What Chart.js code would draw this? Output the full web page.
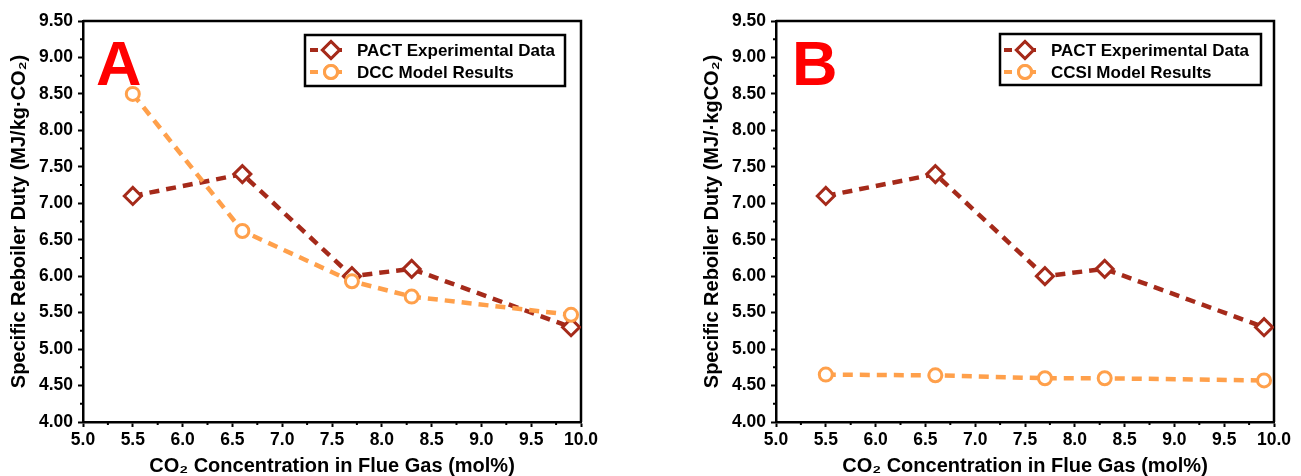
<!DOCTYPE html>
<html lang="en">
<head>
  <meta charset="UTF-8">
  <title>Specific Reboiler Duty vs CO2 Concentration</title>
  <script src="https://cdn.jsdelivr.net/npm/chart.js"></script>
  <style>
    body { margin: 0; background: #fff; }
    .panel { position: absolute; top: 0; height: 476px; }
    #panelA { left: 0; width: 650px; }
    #panelB { left: 650px; width: 651px; }
  </style>
</head>
<body>
  <div class="panel" id="panelA"><canvas id="chartA" width="650" height="476"></canvas></div>
  <div class="panel" id="panelB"><canvas id="chartB" width="651" height="476"></canvas></div>

  <script>
    // CO2 concentration (mol%) for each run
    const co2Conc = [5.5, 6.6, 7.7, 8.3, 9.9];
    // specific reboiler duty, MJ/kg CO2
    const pactDuty = [7.10, 7.40, 6.00, 6.10, 5.30];
    const dccDuty = [8.50, 6.62, 5.93, 5.72, 5.47];
    const ccsiDuty = [4.65, 4.64, 4.60, 4.60, 4.57];

    const xTicks = [5.0, 5.5, 6.0, 6.5, 7.0, 7.5, 8.0, 8.5, 9.0, 9.5, 10.0];
    const yTicks = [4.0, 4.5, 5.0, 5.5, 6.0, 6.5, 7.0, 7.5, 8.0, 8.5, 9.0, 9.5];

    const RED = '#A52A1A';
    const ORANGE = '#FFA04B';
    const FONT = 'Liberation Sans, Arial, sans-serif';

    Chart.defaults.font.family = FONT;
    Chart.defaults.color = '#000';

    const pts = ys => co2Conc.map((x, i) => ({ x: x, y: ys[i] }));

    // frame, minor ticks, panel letter, legend box
    const decor = {
      id: 'decor',
      beforeDatasetsDraw(chart) {
        const a = chart.chartArea, c = chart.ctx;
        c.save();
        c.strokeStyle = '#000';
        c.lineWidth = 2.5;
        c.beginPath();
        c.moveTo(a.left, a.top); c.lineTo(a.right, a.top); c.lineTo(a.right, a.bottom);
        c.stroke();
        // minor ticks
        const xs = chart.scales.x, ys = chart.scales.y;
        c.lineWidth = 2;
        c.beginPath();
        for (let i = 0; i < xTicks.length - 1; i++) {
          const px = xs.getPixelForValue((xTicks[i] + xTicks[i + 1]) / 2);
          c.moveTo(px, a.bottom); c.lineTo(px, a.bottom + 3);
        }
        for (let i = 0; i < yTicks.length - 1; i++) {
          const py = ys.getPixelForValue((yTicks[i] + yTicks[i + 1]) / 2);
          c.moveTo(a.left, py); c.lineTo(a.left - 3, py);
        }
        c.stroke();
        c.restore();
      },
      afterDraw(chart, args, o) {
        const c = chart.ctx;
        c.save();
        c.fillStyle = '#FF0000';
        c.font = 'bold 63px ' + FONT;
        c.textBaseline = 'alphabetic';
        c.fillText(o.letter, o.letterX, 85);

        const L = o.legend;
        c.strokeStyle = '#000';
        c.lineWidth = 2.5;
        c.strokeRect(L.left, L.top, L.right - L.left, L.bottom - L.top);
        const ds = chart.data.datasets;
        [ds[1], ds[0]].forEach((d, i) => {
          const y = L.rows[i];
          c.strokeStyle = d.borderColor;
          c.lineWidth = 4;
          c.beginPath();
          c.moveTo(L.marker - 21, y); c.lineTo(L.marker - 13, y);
          c.moveTo(L.marker + 7, y); c.lineTo(L.marker + 11, y);
          c.stroke();
          c.lineWidth = 3;
          c.fillStyle = '#fff';
          Chart.helpers.drawPoint(c, { pointStyle: d.pointStyle, radius: d.pointRadius, borderWidth: 3, rotation: 0 }, L.marker, y);
          c.fill();
          c.stroke();
          c.fillStyle = '#000';
          c.font = 'bold 17px ' + FONT;
          c.textBaseline = 'middle';
          c.fillText(d.label, L.text, y + 1);
        });
        c.restore();
      }
    };

    function makeChart(id, model, modelLabel, yTitle, yWidth, padRight, letter, letterX, legend) {
      return new Chart(document.getElementById(id), {
        type: 'scatter',
        data: {
          datasets: [
            {
              label: modelLabel, data: pts(model), order: 0,
              showLine: true, borderColor: ORANGE, borderWidth: 4.5, borderDash: [10, 7],
              pointStyle: 'circle', pointRadius: 6.5, pointBorderWidth: 3,
              pointBackgroundColor: '#fff', pointBorderColor: ORANGE
            },
            {
              label: 'PACT Experimental Data', data: pts(pactDuty), order: 1,
              showLine: true, borderColor: RED, borderWidth: 4.5, borderDash: [10, 7],
              pointStyle: 'rectRot', pointRadius: 8.5, pointBorderWidth: 3,
              pointBackgroundColor: '#fff', pointBorderColor: RED
            }
          ]
        },
        options: {
          responsive: false,
          animation: false,
          devicePixelRatio: 1,
          layout: { padding: { top: 21, right: padRight, bottom: 0, left: 0 } },
          plugins: {
            legend: { display: false },
            tooltip: { enabled: false },
            decor: { letter: letter, letterX: letterX, legend: legend }
          },
          scales: {
            x: {
              type: 'linear', min: 5, max: 10,
              afterBuildTicks: s => { s.ticks = xTicks.map(v => ({ value: v })); },
              afterFit: s => { s.height = 54; },
              ticks: {
                callback: v => v.toFixed(1), color: '#000', padding: 3,
                maxRotation: 0, autoSkip: false,
                font: { size: 17.5, weight: 'bold' }
              },
              grid: { drawOnChartArea: false, tickLength: 5, tickWidth: 2, tickColor: '#000' },
              border: { color: '#000', width: 2.5 },
              title: {
                display: true, color: '#000',
                text: 'CO\u2082 Concentration in Flue Gas (mol%)',
                font: { size: 20, weight: 'bold', lineHeight: 1 },
                padding: { top: 0, bottom: 0 }
              }
            },
            y: {
              type: 'linear', min: 4, max: 9.5,
              afterBuildTicks: s => { s.ticks = yTicks.map(v => ({ value: v })); },
              afterFit: s => { s.width = yWidth; },
              ticks: {
                callback: v => v.toFixed(2), color: '#000', padding: 5,
                autoSkip: false, font: { size: 17.5, weight: 'bold' }
              },
              grid: { drawOnChartArea: false, tickLength: 5, tickWidth: 2, tickColor: '#000' },
              border: { color: '#000', width: 2.5 },
              title: {
                display: true, color: '#000', text: yTitle,
                font: { size: 20, weight: 'bold', lineHeight: 1 },
                padding: { top: yWidth - 74, bottom: 0 }
              }
            }
          }
        },
        plugins: [decor]
      });
    }

    makeChart('chartA', dccDuty, 'DCC Model Results',
      'Specific Reboiler Duty (MJ/kg\u00B7CO\u2082)', 83, 69, 'A', 96,
      { left: 305, right: 565, top: 35, bottom: 86, rows: [50, 72], marker: 331, text: 357 });

    makeChart('chartB', ccsiDuty, 'CCSI Model Results',
      'Specific Reboiler Duty (MJ/\u00B7kgCO\u2082)', 126, 27, 'B', 142,
      { left: 350, right: 611, top: 34, bottom: 85, rows: [50, 72], marker: 375, text: 401 });
  </script>
</body>
</html>
